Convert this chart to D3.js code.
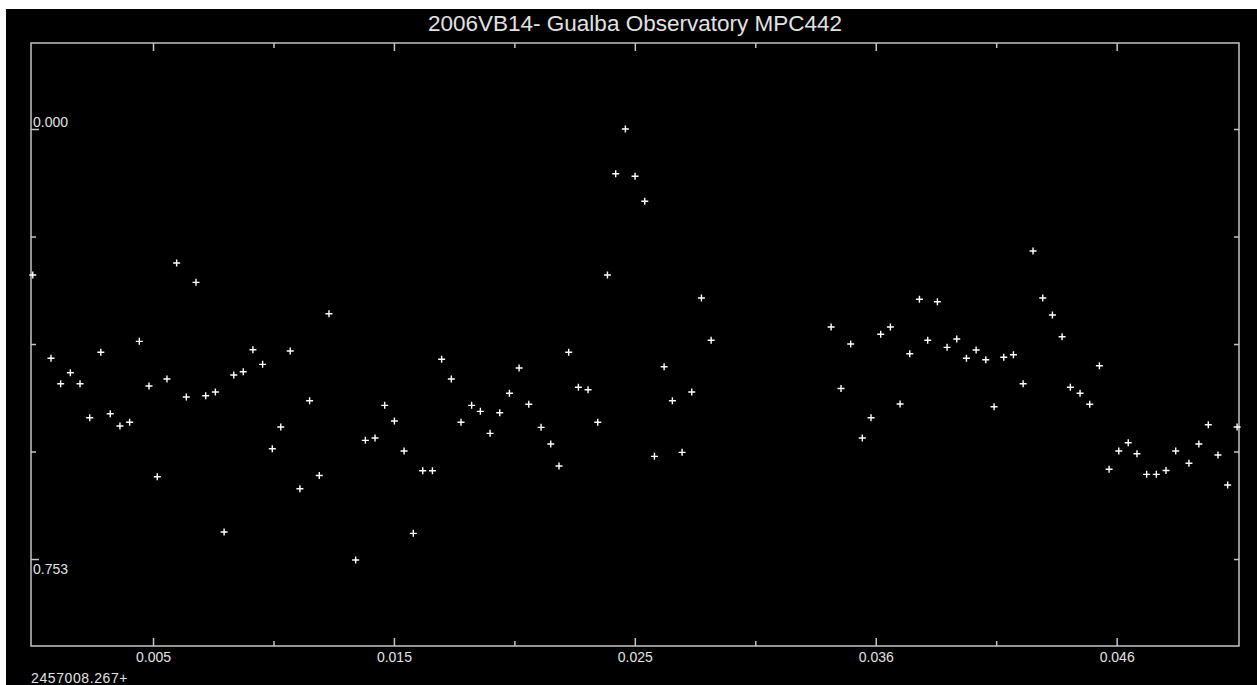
<!DOCTYPE html>
<html>
<head>
<meta charset="utf-8">
<script src="https://cdn.jsdelivr.net/npm/d3@7"></script>
<style>
	body { margin: 0; background: #fff; }
	text { font-family: Arial, 'Liberation Sans', sans-serif; fill: #e2e2e2; }
</style>
</head>
<body>
<div id="chart"></div>
<script>
var title = '2006VB14- Gualba Observatory MPC442',
	jdBase = '2457008.267+';

// time offset (days from jdBase) and relative magnitude
var jdOffsets = [-0.00009, 0.00068, 0.00109, 0.00150, 0.00191, 0.00232, 0.00279, 0.00319, 0.00360, 0.00401,
	0.00442, 0.00483, 0.00518, 0.00559, 0.00600, 0.00641, 0.00682, 0.00723, 0.00764, 0.00801,
	0.00842, 0.00882, 0.00923, 0.00964, 0.01005, 0.01041, 0.01081, 0.01122, 0.01163, 0.01204,
	0.01245, 0.01358, 0.01399, 0.01440, 0.01481, 0.01522, 0.01563, 0.01602, 0.01642, 0.01683,
	0.01722, 0.01763, 0.01804, 0.01849, 0.01886, 0.01927, 0.01968, 0.02009, 0.02050, 0.02091,
	0.02143, 0.02184, 0.02219, 0.02260, 0.02301, 0.02342, 0.02383, 0.02424, 0.02459, 0.02500,
	0.02541, 0.02582, 0.02623, 0.02664, 0.02699, 0.02740, 0.02781, 0.02822, 0.02863, 0.03371,
	0.03413, 0.03454, 0.03503, 0.03540, 0.03581, 0.03622, 0.03663, 0.03704, 0.03745, 0.03780,
	0.03821, 0.03862, 0.03903, 0.03944, 0.03985, 0.04026, 0.04061, 0.04102, 0.04143, 0.04184,
	0.04226, 0.04267, 0.04308, 0.04349, 0.04384, 0.04425, 0.04466, 0.04507, 0.04548, 0.04589,
	0.04629, 0.04666, 0.04707, 0.04748, 0.04789, 0.04830, 0.04886, 0.04928, 0.04968, 0.05009,
	0.05050, 0.05090];

var mags = [0.2557, 0.4015, 0.4460, 0.4268, 0.4460, 0.5056, 0.3910, 0.4986, 0.5201, 0.5136,
	0.3718, 0.4501, 0.6089, 0.4378, 0.2347, 0.4693, 0.2685, 0.4670, 0.4606, 0.7057,
	0.4308, 0.4250, 0.3865, 0.4121, 0.5599, 0.5219, 0.3888, 0.6299, 0.4758, 0.6068,
	0.3234, 0.7548, 0.5452, 0.5411, 0.4839, 0.5114, 0.5639, 0.7080, 0.5984, 0.5984,
	0.4033, 0.4378, 0.5136, 0.4839, 0.4944, 0.5329, 0.4968, 0.4628, 0.4185, 0.4821,
	0.5224, 0.5516, 0.5902, 0.3910, 0.4523, 0.4565, 0.5136, 0.2557, 0.0783, 0.0000,
	0.0828, 0.1266, 0.5732, 0.4163, 0.4758, 0.5662, 0.4606, 0.2960, 0.3700, 0.3467,
	0.4544, 0.3765, 0.5411, 0.5056, 0.3595, 0.3467, 0.4816, 0.3935, 0.2982, 0.3700,
	0.3024, 0.3823, 0.3678, 0.4015, 0.3870, 0.4040, 0.4863, 0.3998, 0.3952, 0.4460,
	0.2136, 0.2960, 0.3257, 0.3637, 0.4523, 0.4628, 0.4821, 0.4145, 0.5959, 0.5639,
	0.5493, 0.5686, 0.6047, 0.6047, 0.5980, 0.5639, 0.5854, 0.5516, 0.5178, 0.5709,
	0.6234, 0.5219];

var xTicks = [0.0050, 0.0101, 0.0152, 0.0203, 0.0254, 0.0305, 0.0356, 0.0407, 0.0458],
	xTickLabels = ['0.005', '', '0.015', '', '0.025', '', '0.036', '', '0.046'];

var yTicks = [0, 0.18825, 0.3765, 0.56475, 0.753],
	yTickLabels = ['0.000', '', '', '', '0.753'];

var points = jdOffsets.map(function(t, i) { return { t: t, mag: mags[i] }; });

var margin = {top: 43, right: 18, bottom: 39, left: 31},
	fullWidth = 1257,
	fullHeight = 685,
	width = fullWidth - margin.left - margin.right,
	height = fullHeight - margin.top - margin.bottom;

var svg = d3.select('#chart').append('svg')
	.attr('width', fullWidth)
	.attr('height', fullHeight)
	.style('display', 'block');

// black panel, leaves a thin white border top and left
svg.append('rect')
	.attr('x', 6)
	.attr('y', 9)
	.attr('width', fullWidth - 6)
	.attr('height', fullHeight - 9)
	.attr('fill', '#000');

svg.append('text')
	.attr('x', margin.left + width / 2)
	.attr('y', 30.5)
	.attr('text-anchor', 'middle')
	.style('font-size', '22.5px')
	.text(title);

var g = svg.append('g')
	.attr('transform', 'translate(' + margin.left + ',' + margin.top + ')');

var x = d3.scaleLinear().domain([-0.000166, 0.05098]).range([0, width]);
var y = d3.scaleLinear().domain([-0.1506, 0.9053]).range([0, height]);

function tickLen(labels, i) {
	return labels[i] ? 8 : 5;
}

function styleAxis(sel) {
	sel.select('.domain').remove();
	sel.selectAll('line').attr('stroke', '#c4c4c4').attr('stroke-width', 1.5);
	sel.selectAll('text').style('font-size', '14px').attr('fill', '#e2e2e2');
}

// bottom axis
var axisB = g.append('g')
	.attr('transform', 'translate(0,' + height + ')')
	.call(d3.axisBottom(x).tickValues(xTicks).tickSize(-5).tickPadding(6)
		.tickFormat(function(d, i) { return xTickLabels[i]; }));
styleAxis(axisB);
axisB.selectAll('.tick line').attr('y2', function(d, i) { return -tickLen(xTickLabels, i); });

// top axis, no labels
var axisT = g.append('g')
	.call(d3.axisTop(x).tickValues(xTicks).tickSize(-5).tickFormat(''));
styleAxis(axisT);
axisT.selectAll('.tick line').attr('y2', function(d, i) { return tickLen(xTickLabels, i); });

// left axis, labels sit inside the frame
var axisL = g.append('g')
	.call(d3.axisLeft(y).tickValues(yTicks).tickSize(-5)
		.tickFormat(function(d, i) { return yTickLabels[i]; }));
styleAxis(axisL);
axisL.selectAll('.tick line').attr('x2', function(d, i) { return tickLen(yTickLabels, i); });
axisL.selectAll('.tick text')
	.attr('text-anchor', 'start')
	.attr('x', 2)
	.attr('dy', function(d, i) { return i === 0 ? '-0.2em' : '1em'; });

// right axis
var axisR = g.append('g')
	.attr('transform', 'translate(' + width + ',0)')
	.call(d3.axisRight(y).tickValues(yTicks).tickSize(-5).tickFormat(''));
styleAxis(axisR);

// frame
g.append('rect')
	.attr('width', width)
	.attr('height', height)
	.attr('fill', 'none')
	.attr('stroke', '#c4c4c4')
	.attr('stroke-width', 1.5);

svg.append('text')
	.attr('x', margin.left)
	.attr('y', 683)
	.style('font-size', '14px')
	.style('letter-spacing', '0.6px')
	.text(jdBase);

g.append('g')
	.attr('class', 'points')
	.selectAll('path')
	.data(points)
	.enter()
	.append('path')
	.attr('transform', function(d) { return 'translate(' + x(d.t) + ',' + y(d.mag) + ')'; })
	.attr('d', 'M-3.5,0H3.5M0,-3.5V3.5')
	.attr('stroke', '#fff')
	.attr('stroke-width', 1.4)
	.attr('fill', 'none');
</script>
</body>
</html>
